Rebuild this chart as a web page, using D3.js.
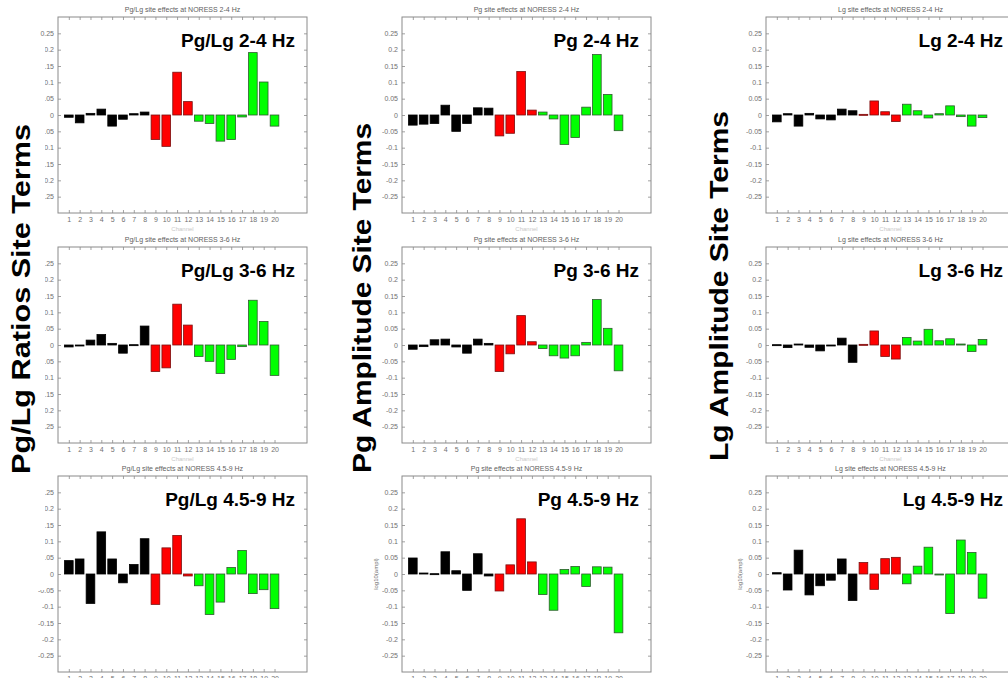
<!DOCTYPE html>
<html>
<head>
<meta charset="utf-8">
<script src="https://cdn.jsdelivr.net/npm/d3@7"></script>
<style>
  html, body { margin: 0; padding: 0; background: #fff; }
  svg { display: block; font-family: Arial, "Liberation Sans", sans-serif; }
</style>
</head>
<body>
<svg id="chart" width="1008" height="678"></svg>
<script>
// ---------------- data ----------------
const sites = [1,2,3,4,5,6,7,8,9,10,11,12,13,14,15,16,17,18,19,20];
const siteGroup = ["a","a","a","a","a","a","a","a","b","b","b","b","c","c","c","c","c","c","c","c"];
const yTickValues = [0.25,0.2,0.15,0.1,0.05,0,-0.05,-0.1,-0.15,-0.2,-0.25];
const yTickLabels = ["0.25","0.2","0.15","0.1","0.05","0","-0.05","-0.1","-0.15","-0.2","-0.25"];

const pgLg_2_4 = [-0.007,-0.024,0.005,0.018,-0.034,-0.013,0.004,0.009,-0.075,-0.096,0.131,0.041,-0.019,-0.026,-0.080,-0.075,-0.006,0.191,0.101,-0.034];
const pg_2_4   = [-0.031,-0.028,-0.026,0.030,-0.050,-0.026,0.022,0.021,-0.064,-0.056,0.133,0.015,0.009,-0.012,-0.090,-0.069,0.024,0.185,0.063,-0.048];
const lg_2_4   = [-0.021,0.004,-0.034,0.005,-0.012,-0.015,0.018,0.013,0.002,0.043,0.010,-0.020,0.033,0.013,-0.009,0.004,0.028,-0.005,-0.034,-0.008];

const pgLg_3_6 = [-0.006,-0.002,0.015,0.032,0.005,-0.025,0.001,0.058,-0.081,-0.070,0.125,0.061,-0.035,-0.050,-0.087,-0.044,-0.005,0.137,0.072,-0.093];
const pg_3_6   = [-0.013,-0.005,0.016,0.018,-0.006,-0.025,0.018,0.005,-0.081,-0.027,0.090,0.010,-0.011,-0.033,-0.040,-0.033,0.008,0.139,0.051,-0.079];
const lg_3_6   = [0.001,-0.008,0.003,-0.007,-0.018,-0.001,0.021,-0.053,0.002,0.043,-0.035,-0.043,0.023,0.012,0.048,0.013,0.019,0.003,-0.020,0.017];

const pgLg_45_9 = [0.041,0.046,-0.090,0.129,0.046,-0.027,0.029,0.108,-0.093,0.080,0.118,-0.006,-0.036,-0.124,-0.086,0.020,0.072,-0.060,-0.048,-0.106];
const pg_45_9   = [0.049,0.003,0.001,0.068,0.010,-0.050,0.062,-0.006,-0.052,0.028,0.169,0.037,-0.063,-0.111,0.014,0.023,-0.038,0.022,0.021,-0.180];
const lg_45_9   = [0.004,-0.049,0.073,-0.064,-0.036,-0.019,0.046,-0.081,0.035,-0.047,0.047,0.051,-0.030,0.024,0.082,-0.001,-0.121,0.104,0.066,-0.074];

const panelTitles = [
  ["Pg/Lg site effects at NORESS 2-4 Hz","Pg site effects at NORESS 2-4 Hz","Lg site effects at NORESS 2-4 Hz"],
  ["Pg/Lg site effects at NORESS 3-6 Hz","Pg site effects at NORESS 3-6 Hz","Lg site effects at NORESS 3-6 Hz"],
  ["Pg/Lg site effects at NORESS 4.5-9 Hz","Pg site effects at NORESS 4.5-9 Hz","Lg site effects at NORESS 4.5-9 Hz"]
];
const panelLabels = [
  ["Pg/Lg 2-4 Hz","Pg 2-4 Hz","Lg 2-4 Hz"],
  ["Pg/Lg 3-6 Hz","Pg 3-6 Hz","Lg 3-6 Hz"],
  ["Pg/Lg 4.5-9 Hz","Pg 4.5-9 Hz","Lg 4.5-9 Hz"]
];
const panelValues = [
  [pgLg_2_4, pg_2_4, lg_2_4],
  [pgLg_3_6, pg_3_6, lg_3_6],
  [pgLg_45_9, pg_45_9, lg_45_9]
];
const columnLabels = ["Pg/Lg Ratios Site Terms","Pg Amplitude Site Terms","Lg Amplitude Site Terms"];
const yAxisLabel = "log10(ampl)";
const xAxisLabel = "Channel";

// ---------------- layout / style ----------------
const colLeft = [58, 402, 766];
const rowTop = [17, 247, 476];
const W = 249, H = 196;
const groupFill = {a: "#000000", b: "#ff0000", c: "#00ff00"};
const groupStroke = {a: "#000000", b: "#7a1010", c: "#2f5a2f"};

const svg = d3.select("#chart");
const x = d3.scaleLinear().domain([0, 23]).range([0, W]);
const y = d3.scaleLinear().domain([-0.3, 0.3]).range([H, 0]);
const barW = x(0.8) - x(0);
const fmtY = v => yTickLabels[yTickValues.findIndex(t => Math.abs(t - v) < 1e-9)];

for (let r = 0; r < 3; r++) {
  for (let c = 0; c < 3; c++) {
    const g = svg.append("g").attr("transform", `translate(${colLeft[c]},${rowTop[r]})`);
    const vals = panelValues[r][c];

    g.append("rect").attr("x", 0).attr("y", 0).attr("width", W).attr("height", H)
      .attr("fill", "#fff").attr("stroke", "none");

    // axes
    const styleAxis = sel => {
      sel.select(".domain").remove();
      sel.selectAll(".tick line").attr("stroke", "#8a8a8a").attr("stroke-width", 0.8);
      sel.selectAll(".tick text").attr("fill", "#707070").attr("font-size", 7)
        .attr("font-family", "Arial, 'Liberation Sans', sans-serif");
    };
    g.append("g").attr("transform", `translate(0,${H})`)
      .call(d3.axisBottom(x).tickValues(sites).tickSizeInner(-3).tickSizeOuter(0).tickPadding(4.5).tickFormat(d3.format("d")))
      .call(styleAxis);
    g.append("g")
      .call(d3.axisTop(x).tickValues(sites).tickSizeInner(-3).tickSizeOuter(0).tickFormat(""))
      .call(styleAxis);
    g.append("g")
      .call(d3.axisLeft(y).tickValues(yTickValues).tickSizeInner(-3).tickSizeOuter(0).tickPadding(4).tickFormat(fmtY))
      .call(styleAxis);
    g.append("g").attr("transform", `translate(${W},0)`)
      .call(d3.axisRight(y).tickValues(yTickValues).tickSizeInner(-3).tickSizeOuter(0).tickFormat(""))
      .call(styleAxis);

    // bars
    g.selectAll("rect.bar").data(vals).enter().append("rect")
      .attr("class", "bar")
      .attr("x", (d, i) => x(sites[i]) - barW / 2)
      .attr("y", d => y(Math.max(0, d)))
      .attr("width", barW)
      .attr("height", d => Math.max(1, Math.abs(y(d) - y(0))))
      .attr("fill", (d, i) => groupFill[siteGroup[i]])
      .attr("stroke", (d, i) => groupStroke[siteGroup[i]])
      .attr("stroke-width", 0.8);

    // box
    g.append("rect").attr("x", 0).attr("y", 0).attr("width", W).attr("height", H)
      .attr("fill", "none").attr("stroke", "#8a8a8a").attr("stroke-width", 1);

    // small title
    g.append("text").attr("x", W / 2).attr("y", -5.5).attr("text-anchor", "middle")
      .attr("font-size", 7).attr("fill", "#606060").text(panelTitles[r][c]);

    // x label
    if (r < 2) {
      g.append("text").attr("x", W / 2).attr("y", H + 18).attr("text-anchor", "middle")
        .attr("font-size", 6).attr("fill", "#c8c8c8").text(xAxisLabel);
    }
    // y label (bottom row only)
    if (r === 2) {
      g.append("text").attr("transform", `translate(-24,${y(0)}) rotate(-90)`)
        .attr("text-anchor", "middle").attr("font-size", 6).attr("fill", "#707070").text(yAxisLabel);
    }

    // big panel label
    g.append("text").attr("x", W - 12).attr("y", 30).attr("text-anchor", "end")
      .attr("font-size", 19).attr("font-weight", "bold").attr("fill", "#000")
      .text(panelLabels[r][c]);
  }
}

// mask partly hiding the first column's tick labels (as in the figure)
svg.append("rect").attr("x", 0).attr("y", 42).attr("width", 45).attr("height", 548).attr("fill", "#fff");

// big column labels
const bigLabelX = [30, 371, 728];
const bigLabelY = [299, 298, 286];
columnLabels.forEach((t, i) => {
  svg.append("text")
    .attr("transform", `translate(${bigLabelX[i]},${bigLabelY[i]}) rotate(-90)`)
    .attr("text-anchor", "middle")
    .attr("font-size", 26).attr("font-weight", "bold").attr("fill", "#000")
    .attr("textLength", 350).attr("lengthAdjust", "spacingAndGlyphs")
    .text(t);
});
</script>
</body>
</html>
